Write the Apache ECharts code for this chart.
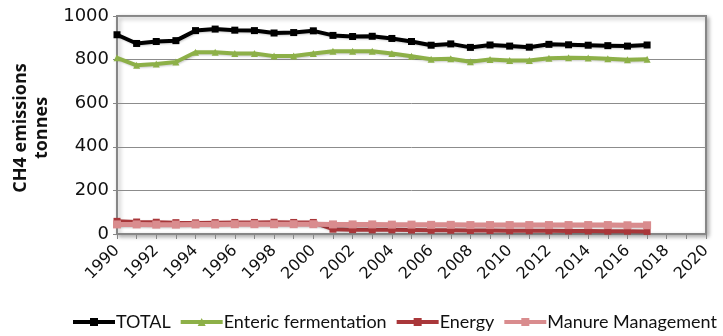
<!DOCTYPE html>
<html>
<head>
<meta charset="utf-8">
<script src="https://cdn.jsdelivr.net/npm/echarts@6/dist/echarts.min.js"></script>
<style>
  html, body { margin: 0; padding: 0; background: #fff; }
  #chart { width: 723px; height: 336px; }
</style>
</head>
<body>
<div id="chart"></div>
<script>
// Annual CH4 emissions by source, tonnes
const years = [1990, 1991, 1992, 1993, 1994, 1995, 1996, 1997, 1998, 1999,
               2000, 2001, 2002, 2003, 2004, 2005, 2006, 2007, 2008, 2009,
               2010, 2011, 2012, 2013, 2014, 2015, 2016, 2017];
const total = [914, 874, 883, 887, 933, 940, 935, 933, 922, 924,
               932, 911, 906, 907, 897, 883, 866, 872, 856, 867,
               862, 857, 870, 868, 866, 864, 862, 867];
const enteric = [808, 774, 780, 789, 834, 834, 828, 828, 816, 817,
                 828, 838, 838, 838, 828, 815, 802, 804, 790, 801,
                 796, 796, 806, 809, 807, 804, 799, 802];
const energy = [58, 55, 54, 52, 51, 52, 53, 53, 54, 53,
                53, 22, 20, 19, 19, 18, 17, 17, 16, 16,
                15, 15, 15, 14, 14, 13, 13, 12];
const manure = [44, 44, 43, 43, 44, 44, 45, 45, 45, 45,
                45, 44, 44, 44, 43, 43, 42, 42, 41, 41,
                41, 41, 41, 41, 41, 41, 40, 40];
const seriesNames = ['TOTAL', 'Enteric fermentation', 'Energy', 'Manure Management'];

const pairs = vals => years.map((y, i) => [y, vals[i]]);

const chart = echarts.init(document.getElementById('chart'), null, { renderer: 'canvas' });

const axisGray = '#868686';
const labelFont = 'Lato';

function lineSeries(name, vals, color, symbol, size, width) {
  return {
    name: name,
    type: 'line',
    data: pairs(vals),
    symbol: symbol,
    symbolSize: size,
    showSymbol: true,
    lineStyle: { color: color, width: width, shadowColor: 'rgba(0,0,0,0.2)', shadowBlur: 2, shadowOffsetX: 1, shadowOffsetY: 1 },
    itemStyle: { color: color, borderWidth: 0 },
    emphasis: { disabled: true },
    animation: false
  };
}

chart.setOption({
  animation: false,
  grid: {
    left: 117, right: 17, top: 16, bottom: 102,
    show: true, borderColor: axisGray, borderWidth: 2,
    backgroundColor: '#fff',
    shadowColor: 'rgba(0,0,0,0.3)', shadowBlur: 4, shadowOffsetX: 2, shadowOffsetY: 2
  },
  xAxis: {
    type: 'value',
    min: 1990, max: 2020, interval: 2,
    axisLine: { show: true, lineStyle: { color: axisGray, width: 2 } },
    axisTick: { show: true, inside: false, length: 5, lineStyle: { color: axisGray, width: 1 } },
    minorTick: { show: true, splitNumber: 2, length: 5, lineStyle: { color: axisGray, width: 1 } },
    splitLine: { show: false },
    axisLabel: {
      rotate: 45, margin: 14, color: '#111', fontFamily: 'DejaVu Sans', fontSize: 16,
      formatter: v => String(v)
    }
  },
  yAxis: {
    type: 'value',
    min: 0, max: 1000, interval: 200,
    axisLine: { show: true, lineStyle: { color: axisGray, width: 2 } },
    axisTick: { show: true, inside: false, length: 4, lineStyle: { color: axisGray, width: 1 } },
    splitLine: { show: true, lineStyle: { color: '#8c8c8c', width: 1 } },
    axisLabel: { margin: 8, color: '#111', fontFamily: 'DejaVu Sans', fontSize: 18, formatter: v => String(v) }
  },
  legend: {
    bottom: 0, left: 66,
    itemWidth: 42, itemHeight: 10, itemGap: 8,
    lineStyle: { width: 4 },
    textStyle: { fontFamily: labelFont, fontSize: 18, color: '#111', padding: [0, 0, 0, -4] },
    data: seriesNames
  },
  graphic: [{
    type: 'text',
    x: 31, y: 128,
    rotation: Math.PI / 2,
    style: {
      text: 'CH4 emissions\ntonnes',
      fontFamily: 'Open Sans', fontWeight: 'bold', fontSize: 18,
      lineHeight: 21,
      fill: '#111',
      align: 'center', verticalAlign: 'middle'
    }
  }],
  series: [
    lineSeries(seriesNames[0], total, '#000000', 'rect', 7, 4),
    lineSeries(seriesNames[1], enteric, '#8DB048', 'triangle', 7, 4),
    lineSeries(seriesNames[2], energy, '#A9373A', 'rect', 7, 4),
    lineSeries(seriesNames[3], manure, '#D98C8E', 'rect', 8, 5)
  ]
});
</script>
</body>
</html>
